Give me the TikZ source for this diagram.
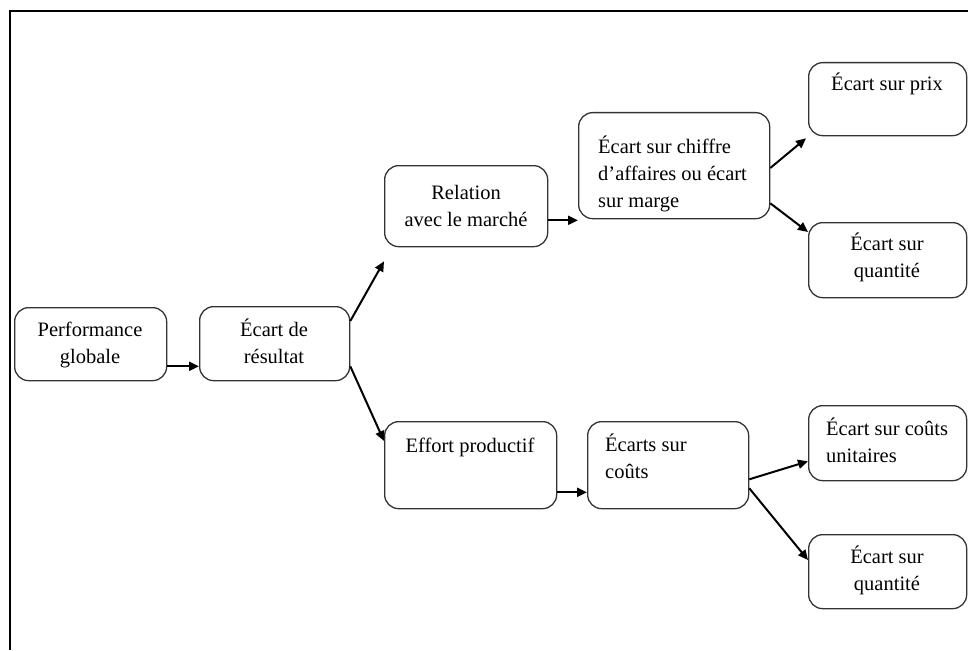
\documentclass[tikz,border=0pt]{standalone}
\usepackage{fontspec}
\setmainfont{Liberation Serif}
\usetikzlibrary{arrows.meta}
\begin{document}
\begin{tikzpicture}[x=1pt,y=-1pt,
  box/.style={draw=black!80,line width=1.3pt,rounded corners=14pt,fill=white,inner sep=0pt},
  lbl/.style={inner sep=0pt,font=\fontsize{20.5}{27}\selectfont},
  flow/.style={line width=2pt,-{Triangle[length=10pt,width=9pt]}}]
\useasboundingbox (0,0) rectangle (968,650);
% outer frame, open on the right and at the bottom
\draw[line width=2pt] (968,11) -- (9.5,11) -- (9.5,650);

% boxes, placed by corner
\newcommand{\boxat}[5]{\node[box,anchor=north west,minimum width=#4-#2,minimum height=#5-#3] (#1) at (#2,#3) {};}
\boxat{b1}{14}{307}{166}{380}
\boxat{b2}{199}{306}{349}{380}
\boxat{b3}{384}{165}{547}{246}
\boxat{b4}{578}{112}{769}{218}
\boxat{b5}{808}{62}{966}{135}
\boxat{b6}{808}{222}{966}{297}
\boxat{b7}{384}{421}{556}{508}
\boxat{b8}{587}{421}{748}{508}
\boxat{b9}{808}{405}{966}{480}
\boxat{b10}{808}{534}{966}{608}

% texts (anchored on the last baseline)
\node[lbl,anchor=base,align=center] (t1) at (90,363) {Performance\\globale};
\node[lbl,anchor=base,align=center] (t2) at (274,363) {Écart de\\résultat};
\node[lbl,anchor=base,align=center] (t3) at (466,226) {Relation\\avec le marché};
\node[lbl,anchor=base west,align=left] (t4) at (598,207) {Écart sur chiffre\\d’affaires ou écart\\sur marge};
\node[lbl,anchor=base,align=center] (t5) at (887,91) {Écart sur prix};
\node[lbl,anchor=base,align=center] (t6) at (887,277) {Écart sur\\quantité};
\node[lbl,anchor=base,align=center] (t7) at (470,452) {Effort productif};
\node[lbl,anchor=base west,align=left] (t8) at (605,478) {Écarts sur\\coûts};
\node[lbl,anchor=base west,align=left] (t9) at (826,462) {Écart sur coûts\\unitaires};
\node[lbl,anchor=base,align=center] (t10) at (887,590) {Écart sur\\quantité};

% connectors
\draw[flow] ([yshift=15pt]b1.south east) -- ([yshift=15pt]b2.south west);
\draw[flow] ([yshift=-15pt]b2.north east) -- ([yshift=-14pt]b3.south west);
\draw[flow] ([yshift=15pt]b2.south east) -- ([yshift=-20pt]b7.north west);
\draw[flow] ([yshift=27pt]b3.south east) -- ([yshift=-1pt]b4.south west);
\draw[flow] ([yshift=-56pt]b4.north east) -- ([shift={(-2pt,-2pt)}]b5.south west);
\draw[flow] ([yshift=16pt]b4.south east) -- ([yshift=-10pt]b6.north west);
\draw[flow] ([yshift=17pt]b7.south east) -- ([yshift=17pt]b8.south west);
\draw[flow] ([yshift=30pt]b8.south east) -- ([yshift=20pt]b9.south west);
\draw[flow] ([yshift=21pt]b8.south east) -- ([yshift=-26pt]b10.north west);
\end{tikzpicture}
\end{document}
